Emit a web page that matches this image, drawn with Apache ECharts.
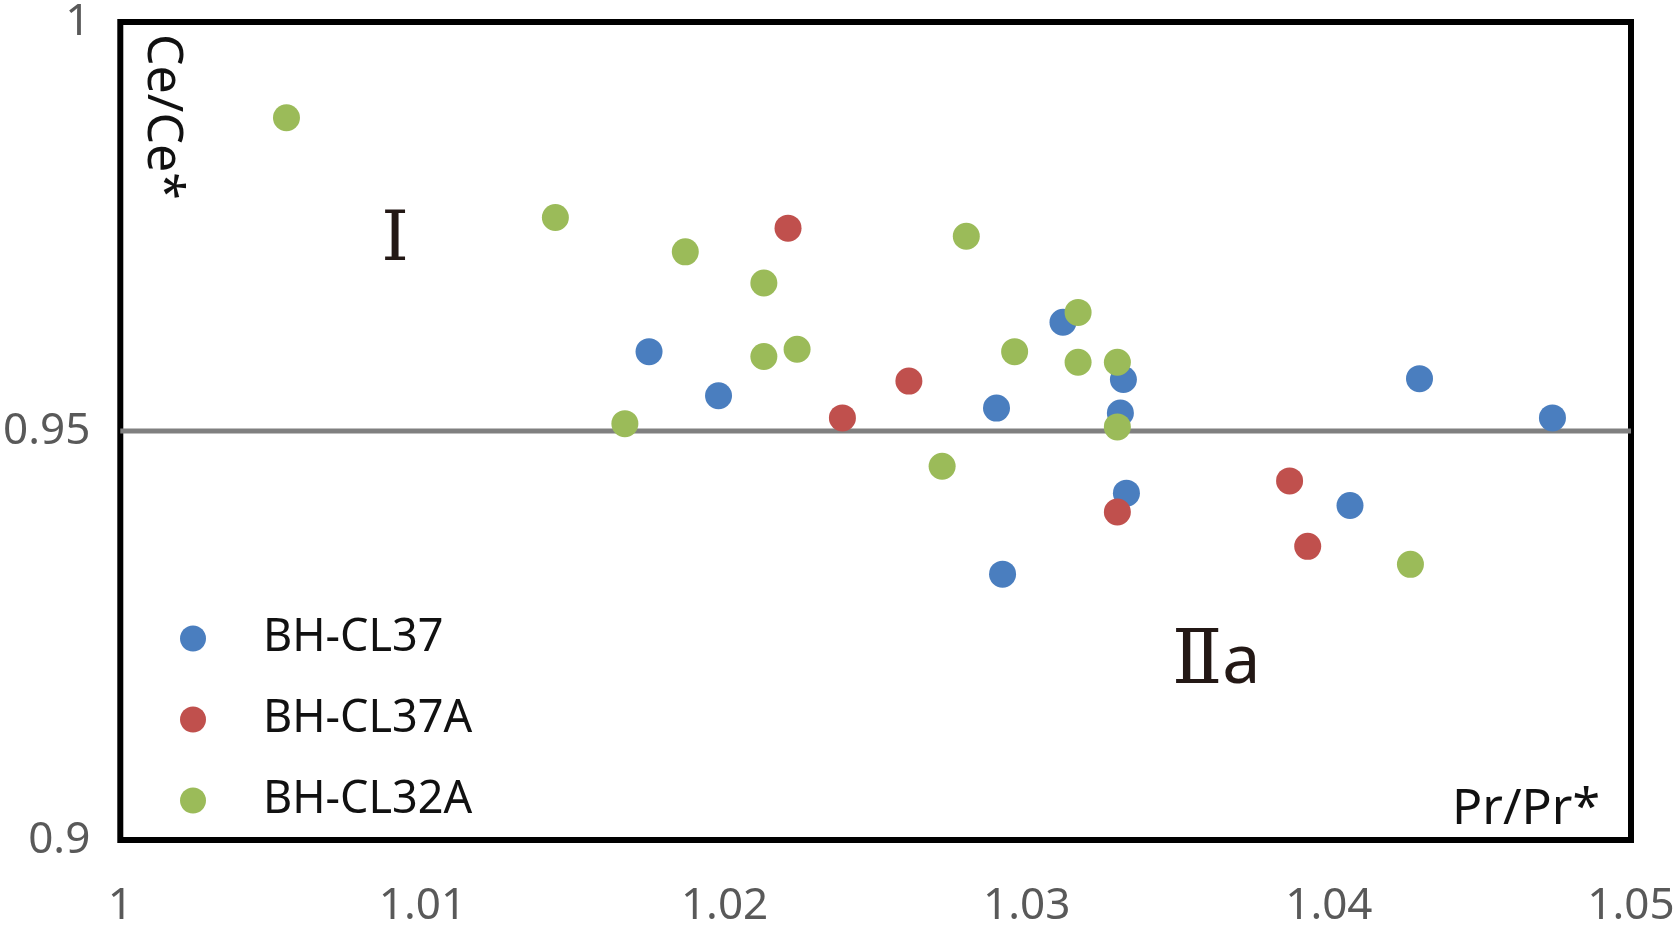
<!DOCTYPE html>
<html>
<head>
<meta charset="utf-8">
<title>Ce/Ce* vs Pr/Pr*</title>
<script src="https://cdn.jsdelivr.net/npm/echarts@6/dist/echarts.min.js"></script>
<style>
  html, body { margin: 0; padding: 0; background: #fff; }
  #chart { width: 1680px; height: 928px; }
</style>
</head>
<body>
<div id="chart"></div>
<script>
// 样品名称
var seriesNames = ['BH-CL37', 'BH-CL37A', 'BH-CL32A'];
var seriesColors = ['#4A7EBF', '#C0504D', '#9BBB59'];

// [Pr/Pr*, Ce/Ce*]
var cl37 = [
  [1.0175, 0.9597], [1.0198, 0.9543], [1.0290, 0.9528], [1.0312, 0.9633],
  [1.0332, 0.9563], [1.0331, 0.9522], [1.0333, 0.9424], [1.0292, 0.9325],
  [1.0430, 0.9564], [1.0474, 0.9516], [1.0407, 0.9409]
];
var cl37a = [
  [1.0221, 0.9748], [1.0261, 0.9561], [1.0239, 0.9516],
  [1.0330, 0.9401], [1.0387, 0.9439], [1.0393, 0.9359]
];
var cl32a = [
  [1.0055, 0.9883], [1.0144, 0.9761], [1.0187, 0.9719], [1.0213, 0.9681],
  [1.0213, 0.9591], [1.0224, 0.9600], [1.0167, 0.9509], [1.0280, 0.9738],
  [1.0272, 0.9457], [1.0296, 0.9597], [1.0317, 0.9645], [1.0317, 0.9584],
  [1.0330, 0.9584], [1.0330, 0.9505], [1.0427, 0.9337]
];
// 分界线 Ce/Ce* = 0.95
var boundaryLine = [[1, 0.95], [1.05, 0.95]];

var xMin = 1, xMax = 1.05, xStep = 0.01;
var yMin = 0.9, yMax = 1, yStep = 0.05;

var chart = echarts.init(document.getElementById('chart'));

var tickFont = 'Noto Sans, Liberation Sans, sans-serif';
var textFont = 'Noto Sans, Noto Sans CJK SC, sans-serif';
var romanFont = 'DejaVu Serif, Liberation Serif, Noto Sans CJK SC, serif';

var allData = [cl37, cl37a, cl32a];
var series = [];
// 分界线在最下层
series.push({
  name: 'boundary',
  type: 'line',
  data: boundaryLine,
  symbol: 'none',
  silent: true,
  z: 1,
  lineStyle: { color: '#808080', width: 5 }
});
for (var i = 0; i < seriesNames.length; i++) {
  series.push({
    name: seriesNames[i],
    type: 'scatter',
    data: allData[i],
    symbol: 'circle',
    symbolSize: 27,
    z: 2 + i,
    itemStyle: { color: seriesColors[i], opacity: 1 }
  });
}

var option = {
  animation: false,
  backgroundColor: '#fff',
  grid: {
    left: 120, right: 49, top: 16, bottom: 78,
    show: true,
    borderColor: '#000',
    borderWidth: 6,
    backgroundColor: 'transparent'
  },
  xAxis: {
    type: 'value',
    min: xMin, max: xMax, interval: xStep,
    axisLine: { show: false },
    axisTick: { show: false },
    splitLine: { show: false },
    axisLabel: {
      color: '#595959', fontSize: 44, fontFamily: tickFont, margin: 44
    }
  },
  yAxis: {
    type: 'value',
    min: yMin, max: yMax, interval: yStep,
    axisLine: { show: false },
    axisTick: { show: false },
    splitLine: { show: false },
    axisLabel: {
      color: '#595959', fontSize: 44, fontFamily: tickFont, margin: 30
    }
  },
  legend: {
    data: seriesNames,
    orient: 'vertical',
    left: 175,
    top: 611,
    itemWidth: 26,
    itemHeight: 26,
    itemGap: 36,
    icon: 'circle',
    selectedMode: false,
    textStyle: {
      color: '#111', fontSize: 45, fontFamily: textFont,
      padding: [0, 0, 0, 52]
    }
  },
  graphic: [
    {
      type: 'text', x: 162, y: 34, rotation: -Math.PI / 2,
      style: {
        text: 'Ce/Ce*', fill: '#111', fontSize: 50, fontFamily: textFont,
        textAlign: 'left', textVerticalAlign: 'middle'
      }
    },
    {
      type: 'text', x: 1600, y: 810,
      style: {
        text: 'Pr/Pr*', fill: '#111', fontSize: 50, fontFamily: textFont,
        textAlign: 'right', textVerticalAlign: 'middle'
      }
    },
    {
      type: 'text', x: 395, y: 242,
      style: {
        text: 'Ⅰ', fill: '#231815', fontSize: 70, fontFamily: romanFont,
        fontWeight: 'lighter', textAlign: 'center', textVerticalAlign: 'middle'
      }
    },
    {
      type: 'text', x: 1172, y: 664,
      style: {
        text: '{r|Ⅱ}{s|a}',
        textAlign: 'left', textVerticalAlign: 'middle',
        rich: {
          r: { fill: '#231815', fontSize: 74, fontFamily: romanFont },
          s: { fill: '#231815', fontSize: 68, fontFamily: textFont }
        }
      }
    }
  ],
  series: series
};

chart.setOption(option);
</script>
</body>
</html>
